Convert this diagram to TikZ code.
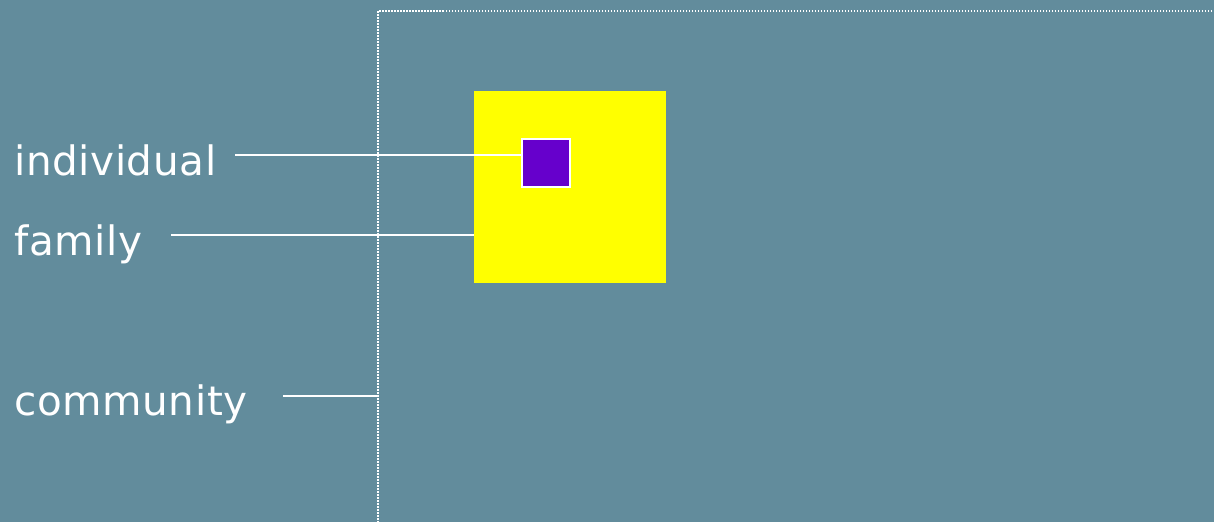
\documentclass[tikz,border=0pt]{standalone}
\usepackage{fontspec}
\setmainfont{DejaVu Sans}[LetterSpace=1.5]
\usetikzlibrary{positioning}
\definecolor{slate}{HTML}{628C9C}
\definecolor{boxpurple}{HTML}{6600CC}
\definecolor{boxyellow}{HTML}{FFFF00}

\begin{document}
\begin{tikzpicture}[
    x=1pt, y=-1pt,
    levelname/.style={anchor=base west, text=white, inner sep=0pt, font=\fontsize{40.5}{48}\selectfont},
    link/.style={draw=white, line width=2pt},
    region/.style={anchor=north west, inner sep=0pt, outer sep=0pt}
]
    % Background
    \fill[slate] (0,0) rectangle (1214,522);
    \useasboundingbox (0,0) rectangle (1214,522);
    \clip (0,0) rectangle (1214,522);

    % Nested levels
    \node[region, draw=white, line width=1.6pt, dash pattern=on 1.5pt off 1.5pt,
          minimum width=900pt, minimum height=600pt] (community) at (378,11) {};
    \node[region, fill=boxyellow, minimum size=192pt] (family) at (474,91) {};
    \node[region, fill=boxpurple, draw=white, line width=1.5pt, minimum size=48pt] (individual) at (522,139) {};

    % Level names
    \node[levelname] (indname) at (14,175) {individual};
    \node[levelname] (famname) at (14,255) {family};
    \node[levelname] (comname) at (14,415) {community};

    % Pointers
    \coordinate (indstart) at (235,155);
    \coordinate (famstart) at (171,235);
    \coordinate (comstart) at (283,396);
    \draw[link] (indstart) -- (indstart -| individual.west);
    \draw[link] (famstart) -- (famstart -| family.west);
    \draw[link] (comstart) -- (comstart -| community.west);
\end{tikzpicture}
\end{document}
